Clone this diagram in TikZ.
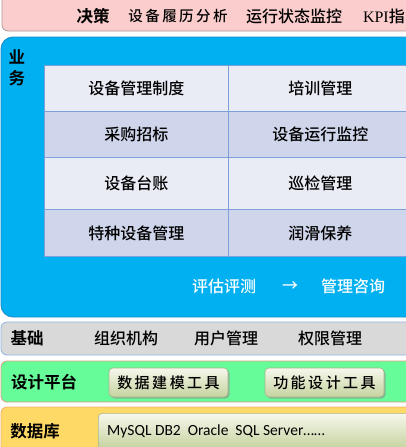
\documentclass[tikz,border=0pt]{standalone}
\usepackage{fontspec}
\setmainfont{Noto Sans CJK SC}[UprightFont=* Medium, BoldFont=* Bold]
\newfontfamily\cjkb{Noto Sans CJK SC Bold}
\newfontfamily\latinserif{Liberation Serif}
\newfontfamily\calib{Carlito}
\usetikzlibrary{shadows}
\definecolor{pinkf}{HTML}{FBCDCD}
\definecolor{pinkd}{HTML}{B09898}
\definecolor{bluef}{HTML}{00B0F0}
\definecolor{blued}{HTML}{1A8CCB}
\definecolor{rowa}{HTML}{E9EBF5}
\definecolor{rowb}{HTML}{CFD5EA}
\definecolor{gridc}{HTML}{7F9FD8}
\definecolor{grayf}{HTML}{D9D9D9}
\definecolor{grayd}{HTML}{8EB4E3}
\definecolor{greenf}{HTML}{66FC99}
\definecolor{greend}{HTML}{E0A080}
\definecolor{yellowf}{HTML}{FFD966}
\definecolor{yellowd}{HTML}{F0B070}
\definecolor{btntop}{HTML}{F7F7EC}
\definecolor{btnbot}{HTML}{C4D39E}
\definecolor{btnd}{HTML}{A8B48A}
\tikzset{
  band/.style={rounded corners=6pt, line width=0.8pt},
  cell/.style={draw=gridc, line width=0.9pt, minimum width=184pt, anchor=north west, inner sep=0pt, font=\fontsize{16}{16}\selectfont},
  lbl/.style={font=\cjkb\fontsize{16.5}{17}\selectfont, inner sep=0pt},
  item/.style={font=\fontsize{16}{16}\selectfont, inner sep=0pt},
  witem/.style={font=\fontsize{16}{16}\selectfont, inner sep=0pt, text=white},
  btn/.style={draw=btnd, rounded corners=4pt, top color=btntop, bottom color=btnbot, line width=0.6pt,
    drop shadow={shadow xshift=1.5pt, shadow yshift=-1.5pt, fill=black!45, opacity=0.6}},
}
\begin{document}
\begin{tikzpicture}[x=1pt,y=-1pt]
\useasboundingbox (0,0) rectangle (405,447);
\fill[white] (0,0) rectangle (405,447);
% decision band
\draw[band, fill=pinkf, draw=pinkd] (2,-10) rectangle (420,31);
\node[lbl] (dec) at (93,16) {决策};
\node[item, font=\fontsize{14.5}{15}\selectfont] (d1) at (178,16) {设\,备\,履\,历\,分\,析};
\node[item] (d2) at (294,16) {运行状态监控};
\node[item, anchor=east] (d3) at (405,16) {{\latinserif KPI}指};
% business panel
\draw[rounded corners=12pt, fill=bluef, draw=blued, line width=0.9pt] (1,37) rectangle (425,317);
\node[lbl] (ye) at (17,57) {业};
\node[lbl] (wu) at (17,78) {务};
% table
\node[cell, fill=rowa, minimum height=46pt] (c11) at (44,65) {设备管理制度};
\node[cell, fill=rowa, minimum height=46pt] (c12) at (228,65) {培训管理};
\node[cell, fill=rowb, minimum height=46pt] (c21) at (44,111) {采购招标};
\node[cell, fill=rowb, minimum height=46pt] (c22) at (228,111) {设备运行监控};
\node[cell, fill=rowa, minimum height=52pt] (c31) at (44,157) {设备台账};
\node[cell, fill=rowa, minimum height=52pt] (c32) at (228,157) {巡检管理};
\node[cell, fill=rowb, minimum height=47pt] (c41) at (44,209) {特种设备管理};
\node[cell, fill=rowb, minimum height=47pt] (c42) at (228,209) {润滑保养};
\node[witem] (e1) at (224,286) {评估评测};
\node[witem] (ar) at (290,287) {→};
\node[witem] (e2) at (353,286) {管理咨询};
% foundation band
\draw[band, fill=grayf, draw=grayd] (1,322) rectangle (420,355);
\node[lbl] (ji) at (27,338) {基础};
\node[item] (f1) at (126,338) {组织机构};
\node[item] (f2) at (226,338) {用户管理};
\node[item] (f3) at (330,338) {权限管理};
% design platform band
\draw[band, fill=greenf, draw=greend] (1,361) rectangle (420,402);
\node[lbl] (sj) at (44,382) {设计平台};
\node[btn, minimum width=119pt, minimum height=29pt, inner sep=0pt, font=\fontsize{15}{15}\selectfont] (b1) at (168.5,382.5) {数\,据\,建\,模\,工\,具};
\node[btn, minimum width=119pt, minimum height=29pt, inner sep=0pt, font=\fontsize{15}{15}\selectfont] (b2) at (324.5,382.5) {功\,能\,设\,计\,工\,具};
% database band
\draw[band, fill=yellowf, draw=yellowd] (1,407) rectangle (420,460);
\node[lbl] (db) at (35,431) {数据库};
\node[btn, minimum width=330pt, minimum height=36pt, inner sep=0pt, anchor=north west] (dbx) at (98,413) {};
\node[anchor=west, inner sep=0pt, font=\calib\fontsize{15.5}{16}\selectfont] (dbt) at (107,431) {MySQL DB2\ \ Oracle\ \ SQL Server……};
\end{tikzpicture}
\end{document}
